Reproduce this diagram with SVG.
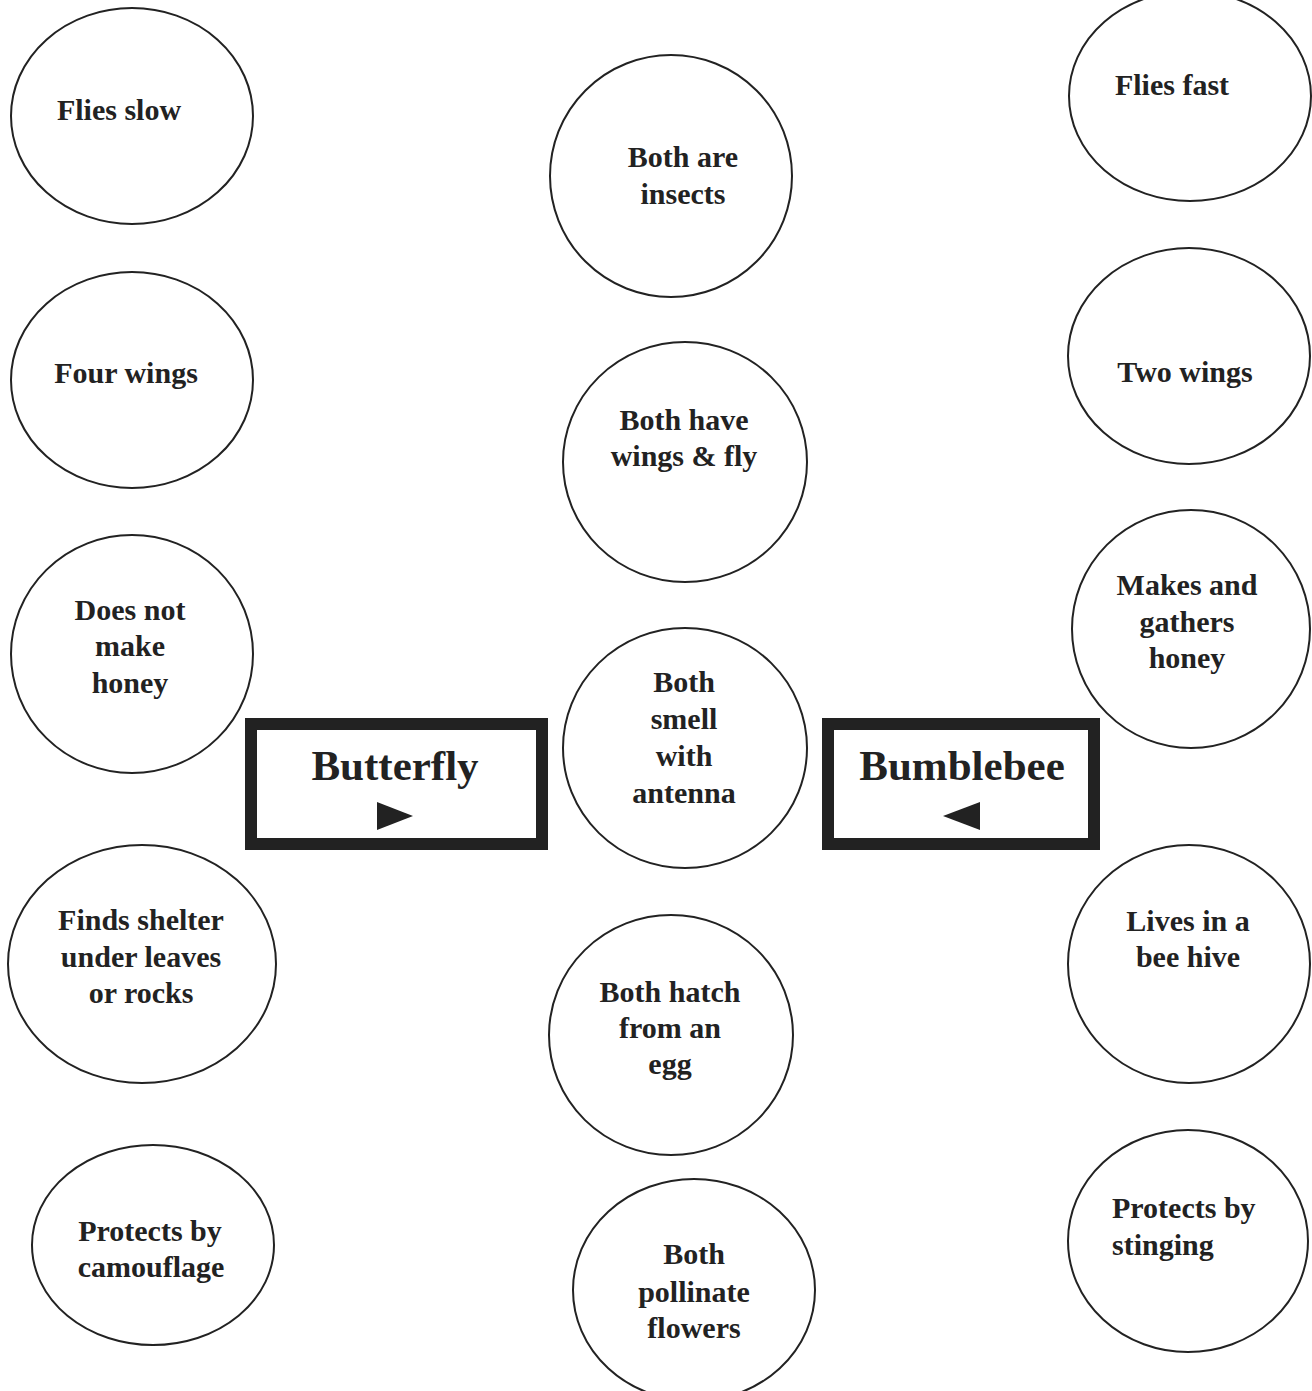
<svg xmlns="http://www.w3.org/2000/svg" width="1312" height="1391" viewBox="0 0 1312 1391">
<style>
.c{fill:#fff;stroke:#222;stroke-width:2}
.t{font-family:"Liberation Serif","Times New Roman",serif;font-weight:bold;font-size:30px;fill:#222;text-anchor:middle}
.bx{fill:#fff;stroke:#222;stroke-width:12}
.bt{font-family:"Liberation Serif","Times New Roman",serif;font-weight:bold;font-size:43px;fill:#222;text-anchor:middle}
.tri{fill:#222}
</style>
<rect width="1312" height="1391" fill="#fff"/>
<g id="connectors"></g>
<g id="flies-slow"><ellipse class="c" cx="132" cy="116" rx="121" ry="108"/><text class="t" x="119" y="120">Flies slow</text></g>
<g id="four-wings"><ellipse class="c" cx="132" cy="380" rx="121" ry="108"/><text class="t" x="126" y="383">Four wings</text></g>
<g id="no-honey"><ellipse class="c" cx="132" cy="654" rx="121" ry="119"/><text class="t" x="130" y="620">Does not</text><text class="t" x="130" y="656">make</text><text class="t" x="130" y="693">honey</text></g>
<g id="shelter"><ellipse class="c" cx="142" cy="964" rx="134" ry="119"/><text class="t" x="141" y="930">Finds shelter</text><text class="t" x="141" y="967">under leaves</text><text class="t" x="141" y="1003">or rocks</text></g>
<g id="camouflage"><ellipse class="c" cx="153" cy="1245" rx="121" ry="100"/><text class="t" x="150" y="1241">Protects by</text><text class="t" x="151" y="1277">camouflage</text></g>
<g id="insects"><ellipse class="c" cx="671" cy="176" rx="121" ry="121"/><text class="t" x="683" y="167">Both are</text><text class="t" x="683" y="204">insects</text></g>
<g id="wings-fly"><ellipse class="c" cx="685" cy="462" rx="122" ry="120"/><text class="t" x="684" y="430">Both have</text><text class="t" x="684" y="466">wings &amp; fly</text></g>
<g id="antenna"><ellipse class="c" cx="685" cy="748" rx="122" ry="120"/><text class="t" x="684" y="692">Both</text><text class="t" x="684" y="729">smell</text><text class="t" x="684" y="766">with</text><text class="t" x="684" y="803">antenna</text></g>
<g id="egg"><ellipse class="c" cx="671" cy="1035" rx="122" ry="120"/><text class="t" x="670" y="1002">Both hatch</text><text class="t" x="670" y="1038">from an</text><text class="t" x="670" y="1074">egg</text></g>
<g id="pollinate"><ellipse class="c" cx="694" cy="1290" rx="121" ry="111"/><text class="t" x="694" y="1264">Both</text><text class="t" x="694" y="1302">pollinate</text><text class="t" x="694" y="1338">flowers</text></g>
<g id="flies-fast"><ellipse class="c" cx="1190" cy="96" rx="121" ry="105"/><text class="t" x="1172" y="95">Flies fast</text></g>
<g id="two-wings"><ellipse class="c" cx="1189" cy="356" rx="121" ry="108"/><text class="t" x="1185" y="382">Two wings</text></g>
<g id="honey"><ellipse class="c" cx="1191" cy="629" rx="119" ry="119"/><text class="t" x="1187" y="595">Makes and</text><text class="t" x="1187" y="632">gathers</text><text class="t" x="1187" y="668">honey</text></g>
<g id="hive"><ellipse class="c" cx="1189" cy="964" rx="121" ry="119"/><text class="t" x="1188" y="931">Lives in a</text><text class="t" x="1188" y="967">bee hive</text></g>
<g id="stinging"><ellipse class="c" cx="1188" cy="1241" rx="120" ry="111"/><text class="t" x="1112" y="1218" style="text-anchor:start">Protects by</text><text class="t" x="1112" y="1255" style="text-anchor:start">stinging</text></g>
<g id="butterfly"><rect class="bx" x="251" y="724" width="291" height="120"/><text class="bt" x="395" y="780">Butterfly</text><polygon class="tri" points="377,802 413,816 377,830"/></g>
<g id="bumblebee"><rect class="bx" x="828" y="724" width="266" height="120"/><text class="bt" x="962" y="780">Bumblebee</text><polygon class="tri" points="980,802 943,816 980,830"/></g>
</svg>
